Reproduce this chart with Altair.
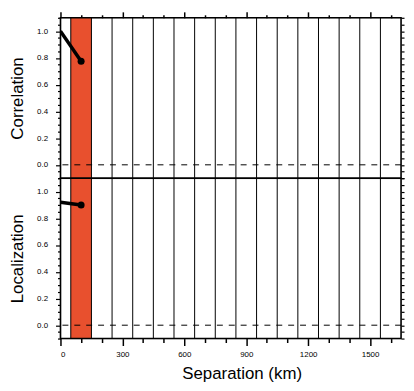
import altair as alt
import pandas as pd

# ---- data ----
sep_km = [0, 100]
correlation = [1.0, 0.775]
localization = [0.92, 0.90]
point_sep = [100]
corr_point = [0.775]
loc_point = [0.90]
bin_edges = [50, 150, 250, 350, 450, 550, 650, 750, 850, 950, 1050, 1150, 1250, 1350, 1450, 1550]
band_start = [50]
band_end = [150]
zero_line = [0.0]
x_tick_values = [0, 100, 200, 300, 400, 500, 600, 700, 800, 900, 1000, 1100, 1200, 1300, 1400, 1500, 1600]
y_tick_values = [-0.1, -0.05, 0.0, 0.05, 0.1, 0.15, 0.2, 0.25, 0.3, 0.35, 0.4, 0.45, 0.5, 0.55,
                 0.6, 0.65, 0.7, 0.75, 0.8, 0.85, 0.9, 0.95, 1.0, 1.05, 1.1]

X_DOMAIN = [0, 1650]
Y_DOMAIN = [-0.1, 1.1]
W, H = 344, 162
FONT = "Liberation Sans"
RED = "#E8502E"

line_corr = pd.DataFrame({"sep": sep_km, "val": correlation})
line_loc = pd.DataFrame({"sep": sep_km, "val": localization})
pt_corr = pd.DataFrame({"sep": point_sep, "val": corr_point})
pt_loc = pd.DataFrame({"sep": point_sep, "val": loc_point})
edges = pd.DataFrame({"sep": bin_edges})
band = pd.DataFrame({"x0": band_start, "x1": band_end})
zero = pd.DataFrame({"val": zero_line})

xscale = alt.Scale(domain=X_DOMAIN, nice=False, zero=False)
yscale = alt.Scale(domain=Y_DOMAIN, nice=False, zero=False)

major_x = "datum.value % 300 === 0"
major_y = "round(datum.value * 100) % 20 === 0 && datum.value > -0.01"


def x_main(bottom):
    if bottom:
        return alt.Axis(orient="bottom", values=x_tick_values, format="d",
                        labelExpr=f"{major_x} ? datum.label : ''", labelOverlap=False,
                        labelFontSize={"condition": {"test": major_x, "value": 8}, "value": 0},
                        tickSize={"condition": {"test": major_x, "value": 7}, "value": 4},
                        tickColor="black", tickWidth=1.5, domain=False, grid=False,
                        labelFont=FONT, labelColor="black", labelPadding=5,
                        title="Separation (km)", titleFont=FONT, titleFontSize=17,
                        titleFontWeight="normal", titleColor="black", titlePadding=7,
                        titleX=183)
    return alt.Axis(orient="top", values=x_tick_values, labels=False,
                    tickSize={"condition": {"test": major_x, "value": 6}, "value": 3},
                    tickColor="black", tickWidth=1.5, domain=False, grid=False, title=None)


def y_left(title):
    return alt.Axis(orient="left", values=y_tick_values, format=".1f",
                    labelExpr=f"{major_y} ? format(datum.value, '.1f') : ''", labelOverlap=False,
                    labelFontSize={"condition": {"test": major_y, "value": 8}, "value": 0},
                    tickSize={"condition": {"test": major_y, "value": 5}, "value": 3},
                    tickColor="black", tickWidth=1.2, domain=False, grid=False,
                    labelFont=FONT, labelColor="black", labelPadding=8,
                    labelFlush=False,
                    title=title, titleFont=FONT, titleFontSize=17, titleFontWeight="normal",
                    titleColor="black", titlePadding=10)


def y_right():
    return alt.Axis(orient="right", values=y_tick_values, labels=False, tickSize=3,
                    tickColor="black", tickWidth=1.2, domain=False, grid=False, title=None)


def panel(line_df, pt_df, title, bottom):
    xa = x_main(bottom)
    rect = alt.Chart(band).mark_rect(color=RED).encode(
        x=alt.X("x0:Q", scale=xscale, axis=xa),
        x2="x1:Q",
        y=alt.value(0), y2=alt.value(H),
    )
    vlines = alt.Chart(edges).mark_rule(color="black", strokeWidth=1).encode(
        x=alt.X("sep:Q", scale=xscale, axis=xa),
    )
    dashed = alt.Chart(zero).mark_rule(color="black", strokeWidth=1, strokeDash=[6, 6]).encode(
        y=alt.Y("val:Q", scale=yscale, axis=y_left(title)),
    )
    right = alt.Chart(zero).mark_rule(opacity=0).encode(
        y=alt.Y("val:Q", scale=yscale, axis=y_right()),
    )
    ln = alt.Chart(line_df).mark_line(color="black", strokeWidth=3.5, clip=True).encode(
        x=alt.X("sep:Q", scale=xscale, axis=xa), y=alt.Y("val:Q", scale=yscale, axis=None),
    )
    pt = alt.Chart(pt_df).mark_circle(color="black", size=50, opacity=1).encode(
        x=alt.X("sep:Q", scale=xscale, axis=xa), y=alt.Y("val:Q", scale=yscale, axis=None),
    )
    frame = alt.Chart(zero).mark_rect(fill=None, stroke="black", strokeWidth=1.6).encode(
        x=alt.value(0), x2=alt.value(W), y=alt.value(0), y2=alt.value(H),
    )
    return alt.layer(rect, vlines, dashed, right, ln, pt, frame).resolve_axis(
        y="independent").properties(width=W, height=H)


top = panel(line_corr, pt_corr, "Correlation", False)
bot = panel(line_loc, pt_loc, "Localization", True)

chart = alt.vconcat(top, bot, spacing=0, bounds="flush").properties(
    padding={"left": 0, "top": 0, "right": 0, "bottom": 0}
).configure_view(stroke="black", strokeWidth=1.5).configure(background="white")

chart.save("out.html", embed_options={"renderer": "svg", "actions": False})
